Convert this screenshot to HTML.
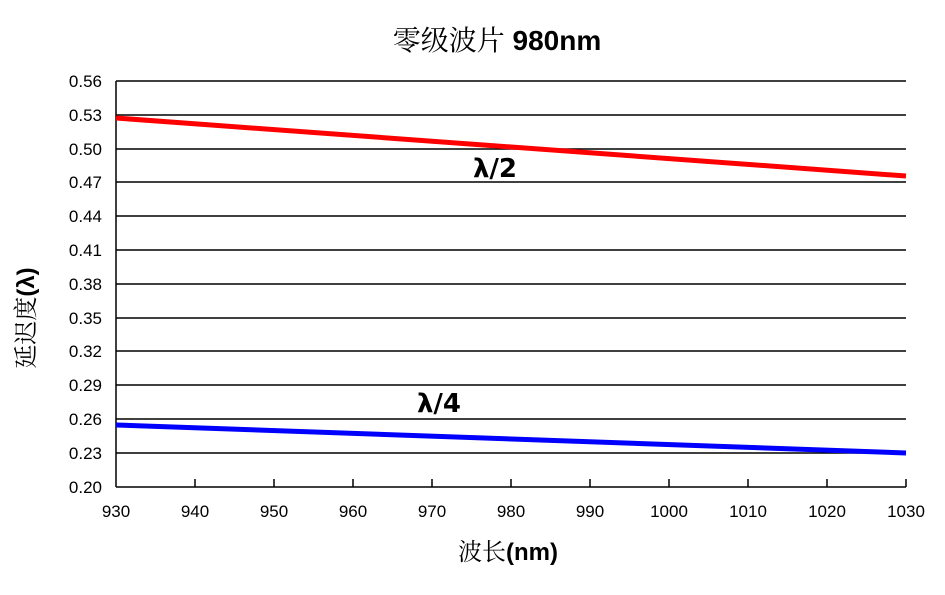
<!DOCTYPE html>
<html><head><meta charset="utf-8"><style>
html,body{margin:0;padding:0;background:#fff;}
</style></head><body>
<svg width="945" height="590" xmlns="http://www.w3.org/2000/svg">
<rect width="945" height="590" fill="#fff"/>
<g stroke="#000" stroke-width="1.5">
<line x1="116" y1="81" x2="906" y2="81"/>
<line x1="116" y1="115" x2="906" y2="115"/>
<line x1="116" y1="149" x2="906" y2="149"/>
<line x1="116" y1="182" x2="906" y2="182"/>
<line x1="116" y1="216" x2="906" y2="216"/>
<line x1="116" y1="250" x2="906" y2="250"/>
<line x1="116" y1="284" x2="906" y2="284"/>
<line x1="116" y1="318" x2="906" y2="318"/>
<line x1="116" y1="351" x2="906" y2="351"/>
<line x1="116" y1="385" x2="906" y2="385"/>
<line x1="116" y1="419" x2="906" y2="419"/>
<line x1="116" y1="453" x2="906" y2="453"/>
<line x1="116" y1="487" x2="906" y2="487"/>
<line x1="116" y1="81" x2="116" y2="487"/>
</g>
<g stroke="#000" stroke-width="1.5">
<line x1="195" y1="487" x2="195" y2="479"/><line x1="274" y1="487" x2="274" y2="479"/><line x1="353" y1="487" x2="353" y2="479"/><line x1="432" y1="487" x2="432" y2="479"/><line x1="511" y1="487" x2="511" y2="479"/><line x1="590" y1="487" x2="590" y2="479"/><line x1="669" y1="487" x2="669" y2="479"/><line x1="748" y1="487" x2="748" y2="479"/><line x1="827" y1="487" x2="827" y2="479"/><line x1="906" y1="487" x2="906" y2="479"/>
</g>
<line x1="116" y1="118" x2="906" y2="176" stroke="#ff0000" stroke-width="5"/>
<line x1="116" y1="425" x2="906" y2="453" stroke="#0000ff" stroke-width="5"/>
<g font-family="Liberation Sans, sans-serif" font-size="17" fill="#000" text-anchor="end">
<text x="102" y="87">0.56</text><text x="102" y="121">0.53</text><text x="102" y="155">0.50</text><text x="102" y="188">0.47</text><text x="102" y="222">0.44</text><text x="102" y="256">0.41</text><text x="102" y="290">0.38</text><text x="102" y="324">0.35</text><text x="102" y="357">0.32</text><text x="102" y="391">0.29</text><text x="102" y="425">0.26</text><text x="102" y="459">0.23</text><text x="102" y="493">0.20</text>
</g>
<g font-family="Liberation Sans, sans-serif" font-size="17" fill="#000" text-anchor="middle">
<text x="116" y="517">930</text><text x="195" y="517">940</text><text x="274" y="517">950</text><text x="353" y="517">960</text><text x="432" y="517">970</text><text x="511" y="517">980</text><text x="590" y="517">990</text><text x="669" y="517">1000</text><text x="748" y="517">1010</text><text x="827" y="517">1020</text><text x="906" y="517">1030</text>
</g>
<text x="495" y="177" font-family="DejaVu Sans, sans-serif" font-size="26" font-weight="bold" text-anchor="middle">λ/2</text>
<text x="439" y="412" font-family="DejaVu Sans, sans-serif" font-size="26" font-weight="bold" text-anchor="middle">λ/4</text>
<text x="497" y="50" font-size="28" text-anchor="middle"><tspan font-family="Noto Serif CJK SC, serif">零级波片</tspan><tspan font-family="Liberation Sans, sans-serif" font-weight="bold"> 980nm</tspan></text>
<text x="508" y="560" font-size="24" text-anchor="middle"><tspan font-family="Noto Serif CJK SC, serif">波长</tspan><tspan font-family="Liberation Sans, sans-serif" font-weight="bold">(nm)</tspan></text>
<text transform="translate(34,318) rotate(-90)" font-size="24" text-anchor="middle"><tspan font-family="Noto Serif CJK SC, serif">延迟度</tspan><tspan font-family="Liberation Sans, sans-serif" font-weight="bold">(λ)</tspan></text>
</svg>
</body></html>
